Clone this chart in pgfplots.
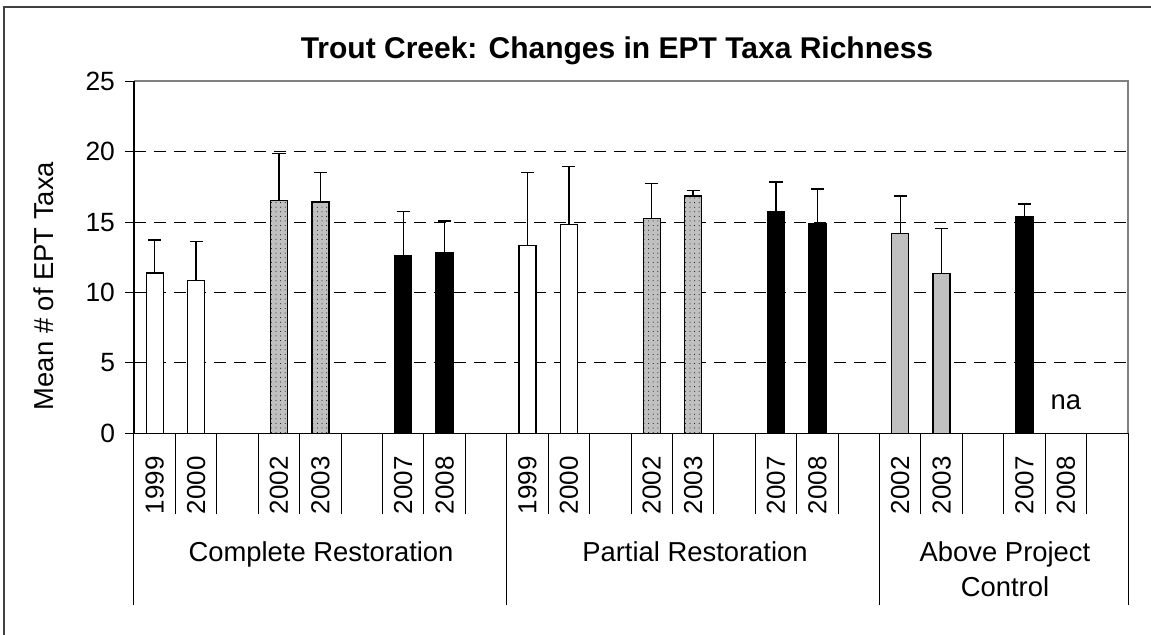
\documentclass[border=0pt]{standalone}
\usepackage{fontspec}
\setmainfont{Liberation Sans}
\usepackage{pgfplots}
\pgfplotsset{compat=1.18}
\usetikzlibrary{patterns.meta}

\definecolor{barGray}{RGB}{192,192,192}
\definecolor{frameGray}{RGB}{128,128,128}
\definecolor{outerGray}{RGB}{64,64,64}

% pixel position of the reference -> picture coordinates (plot box corner at origin)
\newcommand{\px}[2]{({(#1-134)*0.5pt},{(433.3-#2)*0.5pt})}

\begin{document}
\begin{tikzpicture}[font=\fontsize{13.7}{16}\selectfont]
\begin{axis}[
    name=ax, at={(0,0)}, anchor=south west,
    scale only axis, width=497pt, height=175.9pt,
    xmin=-0.5, xmax=23.5, ymin=0, ymax=25,
    ybar, bar width=8.5pt, bar shift=0pt,
    axis line style={draw=none},
    tick align=outside, tick pos=left,
    major tick length=4.5pt,
    ytick={0,5,...,25},
    ytick style={black, line width=0.5pt},
    yticklabel style={font=\fontsize{13.2}{15}\selectfont},
    yticklabel shift=1.5pt,
    ymajorgrids,
    grid style={black, line width=0.5pt, dash pattern=on 6pt off 4pt},
    xtick={0,...,23},
    xticklabels={1999,2000,,2002,2003,,2007,2008,,1999,2000,,2002,2003,,2007,2008,,2002,2003,,2007,2008,},
    major x tick style={draw=none},
    minor xtick={-0.5,0.5,...,23.5},
    minor tick length=40.5pt,
    minor x tick style={black, line width=0.5pt},
    extra x ticks={-0.5,8.5,17.5,23.5},
    extra x tick labels={},
    extra x tick style={major tick length=86pt, major x tick style={draw=black, line width=0.5pt}, grid=none},
    xticklabel style={rotate=90, anchor=east, font=\fontsize{13}{15}\selectfont},
    xticklabel shift=3.5pt,
    /pgf/number format/assume math mode=true,
    eb/.style={error bars/.cd, y dir=plus, y explicit,
        error bar style={black, line width=0.7pt},
        error mark options={black, rotate=90, mark size=3.3pt, line width=0.7pt}},
]
% open bars
\addplot[draw=black, line width=0.7pt, fill=white, eb] coordinates {
    (0,11.4) +- (0,2.35)
    (1,10.85) +- (0,2.8)
    (9,13.35) +- (0,5.2)
    (10,14.85) +- (0,4.1)
};
% dotted grey bars
\addplot[draw=black, line width=0.7pt, fill=barGray,
    postaction={pattern={Dots[distance=2.3pt, radius=0.25pt]}, pattern color=black}, eb] coordinates {
    (3,16.55) +- (0,3.35)
    (4,16.45) +- (0,2.1)
    (12,15.25) +- (0,2.5)
    (13,16.85) +- (0,0.4)
};
% solid black bars
\addplot[draw=black, line width=0.7pt, fill=black, eb] coordinates {
    (6,12.6) +- (0,3.15)
    (7,12.85) +- (0,2.25)
    (15,15.75) +- (0,2.1)
    (16,14.9) +- (0,2.45)
    (21,15.4) +- (0,0.9)
};
% plain grey bars
\addplot[draw=black, line width=0.7pt, fill=barGray, eb] coordinates {
    (18,14.2) +- (0,2.65)
    (19,11.35) +- (0,3.2)
};
\node at (axis cs:22,2.2) {na};
\end{axis}

% plot box: grey top/right, black left/bottom
\draw[frameGray, line width=1pt] (ax.south east) -- (ax.north east) -- (ax.north west);
\draw[black, line width=0.6pt] (ax.north west) -- (ax.south west) -- (ax.south east);

% titles and group labels
\node[anchor=base, font=\fontsize{15}{18}\selectfont\bfseries] at \px{617}{59} {Trout Creek: Changes in EPT Taxa Richness};
\node[rotate=90] at \px{44}{286} {Mean \# of EPT Taxa};
\node[anchor=base] at \px{321}{562} {Complete Restoration};
\node[anchor=base] at \px{695}{562} {Partial Restoration};
\node[anchor=base] at \px{1005}{562} {Above Project};
\node[anchor=base] at \px{1005}{597} {Control};

% outer chart frame
\draw[outerGray, line width=1pt] \px{4}{7} rectangle \px{1160}{645};

\pgfresetboundingbox
\path[use as bounding box] \px{0}{0} rectangle \px{1151}{635};
\end{tikzpicture}
\end{document}
